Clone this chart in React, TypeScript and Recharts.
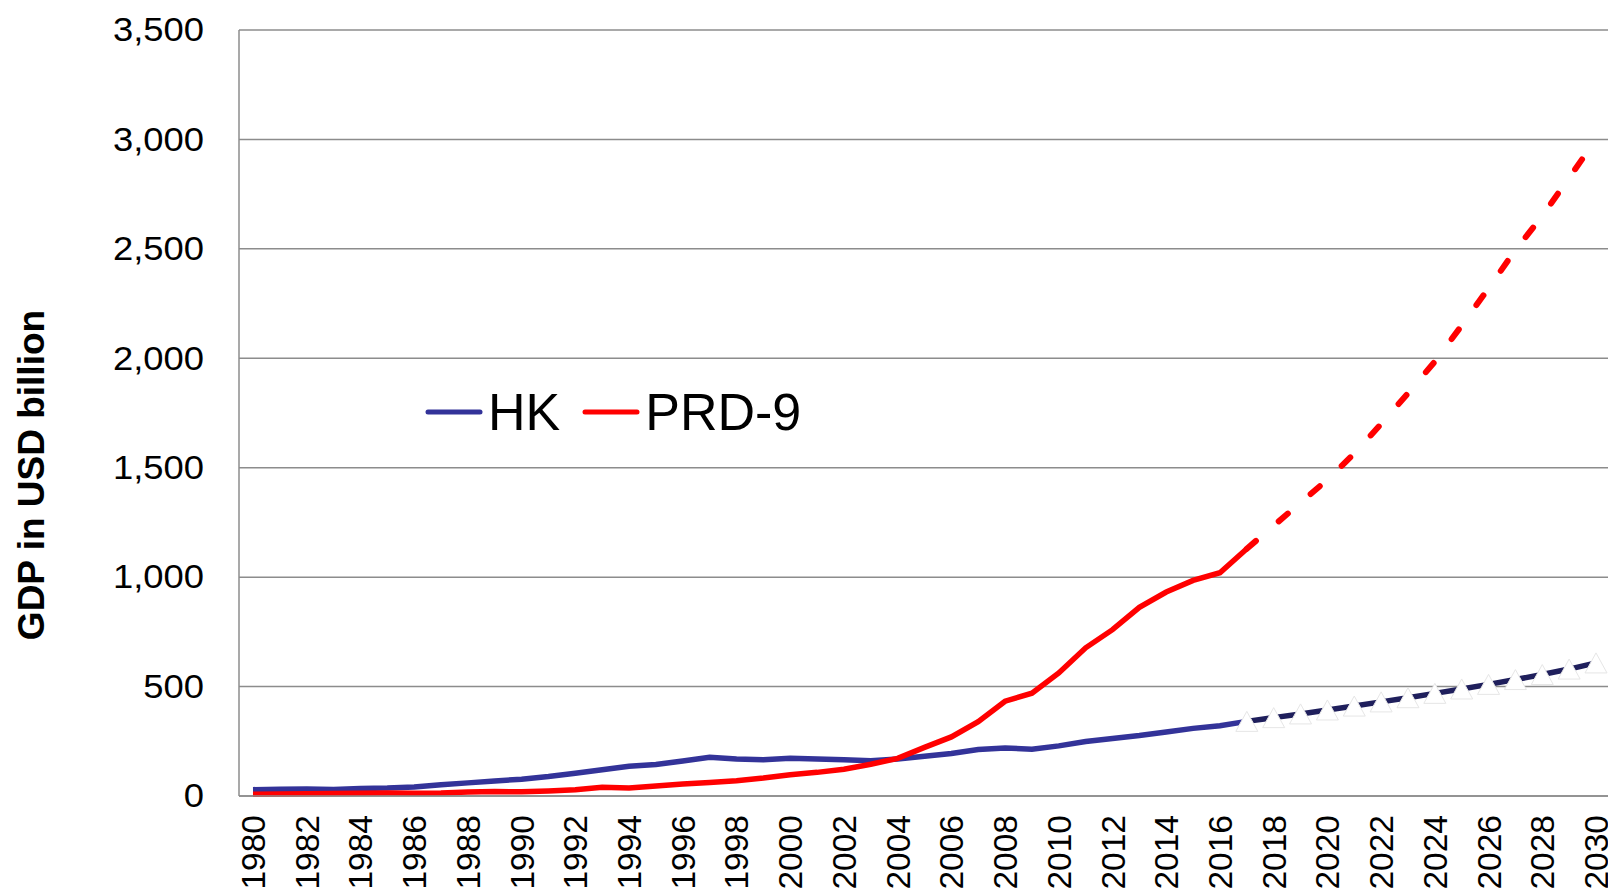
import React from 'react';
import { LineChart, Line, XAxis, YAxis, CartesianGrid, Legend } from 'recharts';

const years = [
  1980, 1981, 1982, 1983, 1984, 1985, 1986, 1987, 1988, 1989,
  1990, 1991, 1992, 1993, 1994, 1995, 1996, 1997, 1998, 1999,
  2000, 2001, 2002, 2003, 2004, 2005, 2006, 2007, 2008, 2009,
  2010, 2011, 2012, 2013, 2014, 2015, 2016, 2017, 2018, 2019,
  2020, 2021, 2022, 2023, 2024, 2025, 2026, 2027, 2028, 2029, 2030,
];

// 1980-2017 actual
const hkGdp = [
  29, 31, 32, 30, 34, 36, 41, 51, 60, 69,
  77, 89, 104, 120, 136, 144, 160, 177, 169, 166,
  172, 169, 166, 161, 169, 182, 194, 212, 219, 214,
  229, 249, 263, 276, 292, 309, 321, 341,
];
const prdGdp = [
  8, 9, 10, 11, 13, 14, 13, 14, 18, 20,
  19, 23, 29, 40, 37, 46, 55, 62, 70, 82,
  97, 108, 122, 145, 172, 222, 270, 340, 433, 470,
  562, 677, 760, 862, 932, 985, 1020, 1130,
];

// 2017-2030 projection
const hkProjection = [341, 358, 375, 393, 411, 430, 449, 469, 489, 510, 532, 555, 580, 608];
const prdProjection = [1130, 1235, 1340, 1445, 1565, 1700, 1840, 1985, 2150, 2320, 2495, 2650, 2825, 3000];

const yTicks = [0, 500, 1000, 1500, 2000, 2500, 3000, 3500];

const projStart = years.indexOf(2017);

const data = years.map((year, i) => ({
  year,
  hk: i < hkGdp.length ? hkGdp[i] : null,
  prd: i < prdGdp.length ? prdGdp[i] : null,
  hkProj: i >= projStart ? hkProjection[i - projStart] : null,
  prdProj: i >= projStart ? prdProjection[i - projStart] : null,
}));

const font = '"Liberation Sans", Arial, sans-serif';

const XTick = (props: any) => {
  const { x, payload } = props;
  return (
    <text
      transform={`translate(${x + 12},815) rotate(-90)`}
      textAnchor="end"
      fontSize={33.5}
      fontFamily={font}
      fill="#000"
    >
      {payload.value}
    </text>
  );
};

const YTick = (props: any) => {
  const { y, payload } = props;
  return (
    <text
      transform={`translate(204,${y}) scale(1.12,1)`}
      textAnchor="end"
      dominantBaseline="central"
      fontSize={32.5}
      fontFamily={font}
      fill="#000"
    >
      {payload.value.toLocaleString('en-US')}
    </text>
  );
};

const Triangle = (props: any) => {
  const { cx, cy, index } = props;
  if (cx == null || cy == null) return <g key={index} />;
  return (
    <polygon
      key={index}
      points={`${cx},${cy - 10} ${cx + 11},${cy + 10} ${cx - 11},${cy + 10}`}
      fill="#fff"
      stroke="#e6e6e6"
      strokeWidth={1}
    />
  );
};

const LegendContent = (props: any) => {
  const items = (props.payload || []).filter((p: any) => p.type !== 'none');
  return (
    <div style={{ display: 'flex', alignItems: 'center', height: 60, fontFamily: font }}>
      {items.map((item: any, i: number) => (
        <div key={i} style={{ display: 'flex', alignItems: 'center', marginRight: 22 }}>
          <svg width={58} height={10}>
            <line x1={3} y1={5} x2={55} y2={5} stroke={item.color} strokeWidth={5} strokeLinecap="round" />
          </svg>
          <span style={{ fontSize: 52, lineHeight: '60px', color: '#000', marginLeft: 5 }}>{item.value}</span>
        </div>
      ))}
    </div>
  );
};

export default function App() {
  return (
    <div style={{ position: 'absolute', left: 0, top: 0, width: 1608, height: 893, background: '#fff' }}>
      <LineChart width={1608} height={893} data={data} margin={{ top: 30, right: 0, bottom: 0, left: 0 }}>
        <CartesianGrid vertical={false} stroke="#8c8c8c" strokeWidth={1.5} />
        <XAxis
          dataKey="year"
          interval={1}
          height={97}
          padding={{ left: 14, right: 12 }}
          axisLine={{ stroke: '#8c8c8c', strokeWidth: 1.5 }}
          tickLine={false}
          tick={<XTick />}
        />
        <YAxis
          width={239}
          domain={[0, 3500]}
          ticks={yTicks}
          axisLine={{ stroke: '#8c8c8c', strokeWidth: 1.5 }}
          tickLine={false}
          tick={<YTick />}
          label={{
            content: () => (
              <text
                transform="translate(31,475) rotate(-90)"
                textAnchor="middle"
                dominantBaseline="central"
                fontSize={37}
                fontWeight="bold"
                fontFamily={font}
                fill="#000"
              >
                GDP in USD billion
              </text>
            ),
          }}
        />
        <Legend
          layout="vertical"
          align="center"
          verticalAlign="middle"
          content={<LegendContent />}
          wrapperStyle={{ left: 425, top: 382, width: 'auto' }}
        />
        <Line
          dataKey="hkProj"
          name="HK projection"
          legendType="none"
          type="linear"
          stroke="#1f1f5c"
          strokeWidth={5.5}
          dot={<Triangle />}
          activeDot={false}
          isAnimationActive={false}
        />
        <Line
          dataKey="prdProj"
          name="PRD-9 projection"
          legendType="none"
          type="linear"
          stroke="#ff0000"
          strokeWidth={6}
          strokeDasharray="12 30"
          strokeLinecap="round"
          dot={false}
          activeDot={false}
          isAnimationActive={false}
        />
        <Line
          dataKey="hk"
          name="HK"
          type="linear"
          stroke="#333399"
          strokeWidth={5.5}
          dot={false}
          activeDot={false}
          isAnimationActive={false}
        />
        <Line
          dataKey="prd"
          name="PRD-9"
          type="linear"
          stroke="#ff0000"
          strokeWidth={5.5}
          dot={false}
          activeDot={false}
          isAnimationActive={false}
        />
      </LineChart>
    </div>
  );
}
